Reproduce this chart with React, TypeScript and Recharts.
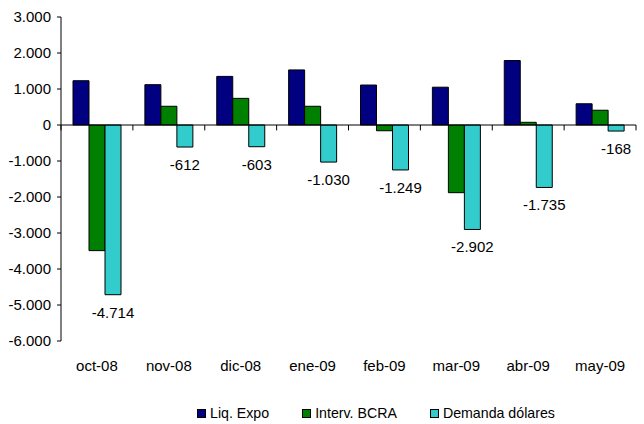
import {
  BarChart, Bar, XAxis, YAxis, ReferenceLine, Legend, LabelList,
} from 'recharts'

const FONT = '"Liberation Sans", Arial, sans-serif'
const TEXT = { fill: '#000', fontSize: 15, fontFamily: FONT }

const MONTHS = ['oct-08', 'nov-08', 'dic-08', 'ene-09', 'feb-09', 'mar-09', 'abr-09', 'may-09']
const LIQ_EXPO = [1230, 1120, 1350, 1530, 1110, 1050, 1790, 590]
const INTERV_BCRA = [-3490, 520, 740, 520, -160, -1880, 75, 410]
const DEMANDA = [-4714, -612, -603, -1030, -1249, -2902, -1735, -168]
const Y_TICKS = [3000, 2000, 1000, 0, -1000, -2000, -3000, -4000, -5000, -6000]

const SERIES = [
  { key: 'liq', name: 'Liq. Expo', color: '#000080' },
  { key: 'bcra', name: 'Interv. BCRA', color: '#008000' },
  { key: 'dem', name: 'Demanda dólares', color: '#33CCCC' },
]

const data = MONTHS.map((m, i) => ({
  month: m,
  liq: LIQ_EXPO[i],
  bcra: INTERV_BCRA[i],
  dem: DEMANDA[i],
}))

// es-AR style thousands: 1.000
const fmt = (v: number) => {
  const s = Math.abs(v).toString().replace(/\B(?=(\d{3})+(?!\d))/g, '.')
  return v < 0 ? `-${s}` : s
}

function BelowLabel(props: any) {
  const { x, y, width, height, value } = props
  const bottom = Math.max(y, y + height)
  return (
    <text x={x + width / 2} y={bottom + 23} textAnchor="middle" {...TEXT}>
      {fmt(value)}
    </text>
  )
}

function LegendBox() {
  return (
    <div style={{ display: 'flex', alignItems: 'center', fontFamily: FONT, fontSize: 14.2, color: '#000' }}>
      {SERIES.map((s, i) => (
        <div key={s.key} style={{ display: 'flex', alignItems: 'center', marginRight: i < SERIES.length - 1 ? 33 : 0 }}>
          <span style={{
            display: 'inline-block', width: 7, height: 7, background: s.color,
            border: '1px solid #000', marginRight: 4,
          }} />
          <span>{s.name}</span>
        </div>
      ))}
    </div>
  )
}

export default function App() {
  return (
    <div style={{ position: 'absolute', left: 0, top: 0, width: 644, height: 424, background: '#fff' }}>
      <BarChart
        width={644}
        height={424}
        data={data}
        margin={{ top: 17, right: 8, bottom: 53, left: 0 }}
        barCategoryGap={12}
        barGap={0}
      >
        <XAxis
          dataKey="month"
          axisLine={false}
          tickLine={false}
          tick={TEXT}
          tickMargin={13}
          height={30}
          interval={0}
        />
        <YAxis
          domain={[-6000, 3000]}
          ticks={Y_TICKS}
          interval={0}
          tickFormatter={fmt}
          tick={TEXT}
          width={61}
          tickSize={4}
          tickMargin={6}
          axisLine={{ stroke: '#000' }}
          tickLine={{ stroke: '#000' }}
        />
        <ReferenceLine y={0} stroke="#000" />
        {MONTHS.map((m) => (
          <ReferenceLine
            key={m}
            segment={[{ x: m, y: 0 }, { x: m, y: -150 }]}
            position="start"
            stroke="#000"
          />
        ))}
        <ReferenceLine
          segment={[{ x: MONTHS[MONTHS.length - 1], y: 0 }, { x: MONTHS[MONTHS.length - 1], y: -150 }]}
          position="end"
          stroke="#000"
        />
        {SERIES.map((s) => (
          <Bar
            key={s.key}
            dataKey={s.key}
            name={s.name}
            fill={s.color}
            stroke="#000"
            strokeWidth={1}
            isAnimationActive={false}
          >
            {s.key === 'dem' && <LabelList dataKey="dem" content={<BelowLabel />} />}
          </Bar>
        ))}
        <Legend
          layout="horizontal"
          verticalAlign="middle"
          align="center"
          content={<LegendBox />}
          wrapperStyle={{ top: 405, left: 197, width: 'auto' }}
        />
      </BarChart>
    </div>
  )
}
